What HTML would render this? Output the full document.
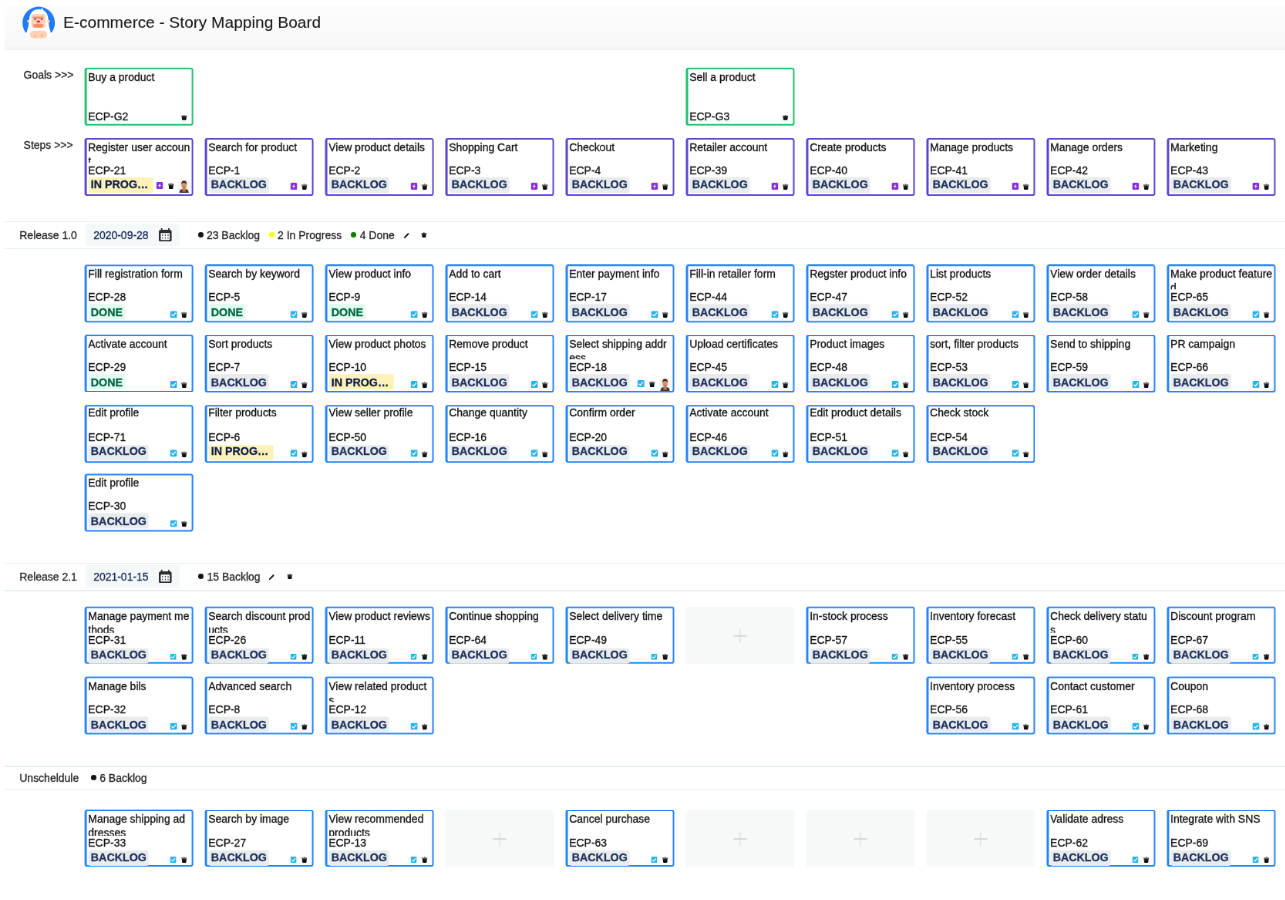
<!DOCTYPE html>
<html><head><meta charset="utf-8"><title>E-commerce - Story Mapping Board</title>
<style>
*{margin:0;padding:0;box-sizing:border-box}
html,body{width:1285px;height:900px;overflow:hidden;background:#fff}
body{will-change:transform;font-family:"Liberation Sans",sans-serif;color:#111}
#root div{-webkit-text-stroke:0.3px currentColor}
#root{position:absolute;left:0;top:0;width:1666.667px;height:1167.315px;transform:scale(0.771);transform-origin:0 0}
.a{position:absolute}
.f{display:block;width:100%;height:100%}
.t{position:absolute;font-size:13.982px;line-height:0;white-space:nowrap;color:#262626}
.card{position:absolute;width:140.726px;background:#fff;border-radius:3.372px}
.card .t{color:#111}
.bd{position:absolute;left:0;top:0;right:0;bottom:0;border:2.075px solid;border-left-width:3.178px;border-radius:3.372px}
.sum{position:absolute;width:132.555px;overflow:hidden;font-size:13.982px;line-height:18.029px;word-break:break-all;color:#111}
.loz{position:absolute;font-weight:bold;font-size:14.267px;border-radius:2.983px;white-space:nowrap;overflow:hidden}
.lb{background:#e8ecec;color:#1f305e}
.ld{background:#e3fcef;color:#006644}
.li{background:#fff2b8;color:#0f1f44}
.ph{position:absolute;width:140.726px;background:#f7f9f9;border-radius:3.891px}
.pl{background:#d2d9d6}
.hl{background:#e4eef1}
.datebox{background:#f5f8f8;border-radius:2.853px}
.dot{border-radius:50%}
.hdr{background:linear-gradient(#fdfdfd,#fafafa 55%,#f8f8f8 90%,#f2f2f2)}
</style></head>
<body><svg width="0" height="0" style="position:absolute"><defs><linearGradient id="tg" x1="0" y1="0" x2="0" y2="1"><stop offset="0" stop-color="#333"/><stop offset="0.5" stop-color="#111"/><stop offset="1" stop-color="#000"/></linearGradient></defs></svg><div id="root">
<div class="a hdr" style="left:6.485px;top:8.042px;width:1660.182px;height:56.550px;"></div>
<div class="a " style="left:25.940px;top:6.485px;width:49.287px;height:49.287px;"><svg class="f" viewBox="0 0 38 38">
<circle cx="18.6" cy="18.3" r="16.6" fill="#fff"/>
<clipPath id="cc"><circle cx="18.6" cy="18.2" r="16.2"/></clipPath>
<g clip-path="url(#cc)">
<path d="M0 0 H38 V28 L30.6 28 Q28.6 22 28.2 14 Q27.2 4.8 18.6 4.6 Q10.2 4.8 9.2 14 Q8.6 22 6.6 28 L0 28 Z" fill="#1d7cf6"/>
</g>
<path d="M20.3 5 L22.4 3.4 L23.4 6.2 Z" fill="#fff"/>
<circle cx="8.3" cy="16.5" r="1.3" fill="#ffd2b5"/><circle cx="28.6" cy="16.5" r="1.3" fill="#ffd2b5"/>
<rect x="11.2" y="9.2" width="14.3" height="13.9" rx="3" fill="#ffd2b5"/>
<rect x="12.9" y="12" width="10.6" height="1.9" fill="#ff8c61"/>
<circle cx="15" cy="14.6" r="0.9" fill="#5b3fa8"/><circle cx="21.6" cy="14.6" r="0.9" fill="#5b3fa8"/>
<ellipse cx="18.3" cy="16.9" rx="1.8" ry="1" fill="#f0252e"/>
<path d="M13.3 19 H23.2 V21 Q23.2 23 21 23 H15.5 Q13.3 23 13.3 21 Z" fill="#ff8c61"/>
<rect x="14" y="18.6" width="0.9" height="1" fill="#fff"/><rect x="21.9" y="18.6" width="0.9" height="1" fill="#fff"/>
<rect x="9.9" y="26" width="17.1" height="7.8" rx="3.8" fill="#ffd2b5"/>
<rect x="14.1" y="30.2" width="1.4" height="1.6" fill="#ff8c61"/><rect x="21" y="30.2" width="1.4" height="1.6" fill="#ff8c61"/>
</svg></div>
<div class="t" style="left:82.101px;top:28.929px;font-size:20.947px;color:#1a1a1a;-webkit-text-stroke:0.12px #1a1a1a">E-commerce - Story Mapping Board</div>
<div class="t" style="left:30.610px;top:96.582px;">Goals &gt;&gt;&gt;</div>
<div class="t" style="left:30.610px;top:187.892px;">Steps &gt;&gt;&gt;</div>
<div class="card" style="left:109px;top:87px;transform:translate(0.598px,0.808px);height:75.097px"><div class="bd" style="border-color:#22c070"></div><div class="sum" style="left:4.669px;top:3.262px;height:28.904px">Buy a product</div><div class="t" style="left:4.669px;top:62.860px;">ECP-G2</div><div class="a " style="left:124.514px;top:60.960px;width:8.431px;height:7.393px;"><svg class="f" viewBox="0 0 68 62" preserveAspectRatio="none"><circle cx="34" cy="6" r="5" fill="#1a1a1a"/><rect x="2" y="10.5" width="64" height="7.5" rx="3" fill="#2e2e2e"/><path d="M8 18 H60 L55 56 Q54 62 48 62 H20 Q14 62 13 56 Z" fill="url(#tg)"/></svg></div></div>
<div class="card" style="left:889px;top:87px;transform:translate(0.494px,0.808px);height:75.097px"><div class="bd" style="border-color:#22c070"></div><div class="sum" style="left:4.669px;top:3.262px;height:28.904px">Sell a product</div><div class="t" style="left:4.669px;top:62.860px;">ECP-G3</div><div class="a " style="left:124.514px;top:60.960px;width:8.431px;height:7.393px;"><svg class="f" viewBox="0 0 68 62" preserveAspectRatio="none"><circle cx="34" cy="6" r="5" fill="#1a1a1a"/><rect x="2" y="10.5" width="64" height="7.5" rx="3" fill="#2e2e2e"/><path d="M8 18 H60 L55 56 Q54 62 48 62 H20 Q14 62 13 56 Z" fill="url(#tg)"/></svg></div></div>
<div class="card" style="left:109px;top:179px;transform:translate(0.598px,0.118px);height:74.578px"><div class="bd" style="border-color:#5a45d3"></div><div class="sum" style="left:4.669px;top:2.743px;height:29.293px">Register user account</div><div class="t" style="left:4.669px;top:41.588px;">ECP-21</div><div class="loz li" style="left:4.994px;top:51.492px;width:84.047px;height:19.974px;line-height:18.518px;padding-left:3.243px">IN PROG…</div><div class="a " style="left:93.320px;top:57.458px;width:8.820px;height:8.820px;"><svg class="f" viewBox="0 0 70 70"><rect width="70" height="70" rx="12" fill="#8a2be2"/><path d="M42 10 L19 39 L33 39 L27 60 L51 30 L37 30 Z" fill="#fff"/></svg></div><div class="a " style="left:108.495px;top:58.366px;width:8.431px;height:7.912px;"><svg class="f" viewBox="0 0 68 62" preserveAspectRatio="none"><circle cx="34" cy="6" r="5" fill="#1a1a1a"/><rect x="2" y="10.5" width="64" height="7.5" rx="3" fill="#2e2e2e"/><path d="M8 18 H60 L55 56 Q54 62 48 62 H20 Q14 62 13 56 Z" fill="url(#tg)"/></svg></div><div class="a " style="left:120.104px;top:52.659px;width:18.158px;height:18.158px;"><svg class="f" viewBox="0 0 14 14"><circle cx="7" cy="7" r="6.8" fill="#f6f4f2"/>
<path d="M2.2 14 Q2.6 10.6 4.6 10.2 L9.4 10.2 Q11.4 10.6 11.8 14 Z" fill="#3b3a36"/>
<path d="M5.6 9.2 L8.4 9.2 L8.8 12.6 L5.2 12.6 Z" fill="#c87545"/>
<ellipse cx="7" cy="6.4" rx="2.6" ry="3.3" fill="#d8936a"/>
<path d="M4.3 5.6 Q4.0 2.0 7 1.7 Q10.0 2.0 9.7 5.6 Q9.0 3.6 7 3.7 Q5.0 3.6 4.3 5.6 Z" fill="#3a2418"/>
<ellipse cx="7" cy="8.3" rx="1.0" ry="0.4" fill="#b5473a"/>
</svg></div></div>
<div class="card" style="left:265px;top:179px;transform:translate(0.577px,0.118px);height:74.578px"><div class="bd" style="border-color:#5a45d3"></div><div class="sum" style="left:4.669px;top:2.743px;height:29.293px">Search for product</div><div class="t" style="left:4.669px;top:41.588px;">ECP-1</div><div class="loz lb" style="left:4.994px;top:51.492px;width:78.340px;height:19.974px;line-height:18.518px;padding-left:3.243px">BACKLOG</div><div class="a " style="left:110.765px;top:58.495px;width:8.820px;height:8.820px;"><svg class="f" viewBox="0 0 70 70"><rect width="70" height="70" rx="12" fill="#8a2be2"/><path d="M42 10 L19 39 L33 39 L27 60 L51 30 L37 30 Z" fill="#fff"/></svg></div><div class="a " style="left:124.514px;top:59.403px;width:8.431px;height:7.912px;"><svg class="f" viewBox="0 0 68 62" preserveAspectRatio="none"><circle cx="34" cy="6" r="5" fill="#1a1a1a"/><rect x="2" y="10.5" width="64" height="7.5" rx="3" fill="#2e2e2e"/><path d="M8 18 H60 L55 56 Q54 62 48 62 H20 Q14 62 13 56 Z" fill="url(#tg)"/></svg></div></div>
<div class="card" style="left:421px;top:179px;transform:translate(0.556px,0.118px);height:74.578px"><div class="bd" style="border-color:#5a45d3"></div><div class="sum" style="left:4.669px;top:2.743px;height:29.293px">View product details</div><div class="t" style="left:4.669px;top:41.588px;">ECP-2</div><div class="loz lb" style="left:4.994px;top:51.492px;width:78.340px;height:19.974px;line-height:18.518px;padding-left:3.243px">BACKLOG</div><div class="a " style="left:110.765px;top:58.495px;width:8.820px;height:8.820px;"><svg class="f" viewBox="0 0 70 70"><rect width="70" height="70" rx="12" fill="#8a2be2"/><path d="M42 10 L19 39 L33 39 L27 60 L51 30 L37 30 Z" fill="#fff"/></svg></div><div class="a " style="left:124.514px;top:59.403px;width:8.431px;height:7.912px;"><svg class="f" viewBox="0 0 68 62" preserveAspectRatio="none"><circle cx="34" cy="6" r="5" fill="#1a1a1a"/><rect x="2" y="10.5" width="64" height="7.5" rx="3" fill="#2e2e2e"/><path d="M8 18 H60 L55 56 Q54 62 48 62 H20 Q14 62 13 56 Z" fill="url(#tg)"/></svg></div></div>
<div class="card" style="left:577px;top:179px;transform:translate(0.536px,0.118px);height:74.578px"><div class="bd" style="border-color:#5a45d3"></div><div class="sum" style="left:4.669px;top:2.743px;height:29.293px">Shopping Cart</div><div class="t" style="left:4.669px;top:41.588px;">ECP-3</div><div class="loz lb" style="left:4.994px;top:51.492px;width:78.340px;height:19.974px;line-height:18.518px;padding-left:3.243px">BACKLOG</div><div class="a " style="left:110.765px;top:58.495px;width:8.820px;height:8.820px;"><svg class="f" viewBox="0 0 70 70"><rect width="70" height="70" rx="12" fill="#8a2be2"/><path d="M42 10 L19 39 L33 39 L27 60 L51 30 L37 30 Z" fill="#fff"/></svg></div><div class="a " style="left:124.514px;top:59.403px;width:8.431px;height:7.912px;"><svg class="f" viewBox="0 0 68 62" preserveAspectRatio="none"><circle cx="34" cy="6" r="5" fill="#1a1a1a"/><rect x="2" y="10.5" width="64" height="7.5" rx="3" fill="#2e2e2e"/><path d="M8 18 H60 L55 56 Q54 62 48 62 H20 Q14 62 13 56 Z" fill="url(#tg)"/></svg></div></div>
<div class="card" style="left:733px;top:179px;transform:translate(0.515px,0.118px);height:74.578px"><div class="bd" style="border-color:#5a45d3"></div><div class="sum" style="left:4.669px;top:2.743px;height:29.293px">Checkout</div><div class="t" style="left:4.669px;top:41.588px;">ECP-4</div><div class="loz lb" style="left:4.994px;top:51.492px;width:78.340px;height:19.974px;line-height:18.518px;padding-left:3.243px">BACKLOG</div><div class="a " style="left:110.765px;top:58.495px;width:8.820px;height:8.820px;"><svg class="f" viewBox="0 0 70 70"><rect width="70" height="70" rx="12" fill="#8a2be2"/><path d="M42 10 L19 39 L33 39 L27 60 L51 30 L37 30 Z" fill="#fff"/></svg></div><div class="a " style="left:124.514px;top:59.403px;width:8.431px;height:7.912px;"><svg class="f" viewBox="0 0 68 62" preserveAspectRatio="none"><circle cx="34" cy="6" r="5" fill="#1a1a1a"/><rect x="2" y="10.5" width="64" height="7.5" rx="3" fill="#2e2e2e"/><path d="M8 18 H60 L55 56 Q54 62 48 62 H20 Q14 62 13 56 Z" fill="url(#tg)"/></svg></div></div>
<div class="card" style="left:889px;top:179px;transform:translate(0.494px,0.118px);height:74.578px"><div class="bd" style="border-color:#5a45d3"></div><div class="sum" style="left:4.669px;top:2.743px;height:29.293px">Retailer account</div><div class="t" style="left:4.669px;top:41.588px;">ECP-39</div><div class="loz lb" style="left:4.994px;top:51.492px;width:78.340px;height:19.974px;line-height:18.518px;padding-left:3.243px">BACKLOG</div><div class="a " style="left:110.765px;top:58.495px;width:8.820px;height:8.820px;"><svg class="f" viewBox="0 0 70 70"><rect width="70" height="70" rx="12" fill="#8a2be2"/><path d="M42 10 L19 39 L33 39 L27 60 L51 30 L37 30 Z" fill="#fff"/></svg></div><div class="a " style="left:124.514px;top:59.403px;width:8.431px;height:7.912px;"><svg class="f" viewBox="0 0 68 62" preserveAspectRatio="none"><circle cx="34" cy="6" r="5" fill="#1a1a1a"/><rect x="2" y="10.5" width="64" height="7.5" rx="3" fill="#2e2e2e"/><path d="M8 18 H60 L55 56 Q54 62 48 62 H20 Q14 62 13 56 Z" fill="url(#tg)"/></svg></div></div>
<div class="card" style="left:1045px;top:179px;transform:translate(0.473px,0.118px);height:74.578px"><div class="bd" style="border-color:#5a45d3"></div><div class="sum" style="left:4.669px;top:2.743px;height:29.293px">Create products</div><div class="t" style="left:4.669px;top:41.588px;">ECP-40</div><div class="loz lb" style="left:4.994px;top:51.492px;width:78.340px;height:19.974px;line-height:18.518px;padding-left:3.243px">BACKLOG</div><div class="a " style="left:110.765px;top:58.495px;width:8.820px;height:8.820px;"><svg class="f" viewBox="0 0 70 70"><rect width="70" height="70" rx="12" fill="#8a2be2"/><path d="M42 10 L19 39 L33 39 L27 60 L51 30 L37 30 Z" fill="#fff"/></svg></div><div class="a " style="left:124.514px;top:59.403px;width:8.431px;height:7.912px;"><svg class="f" viewBox="0 0 68 62" preserveAspectRatio="none"><circle cx="34" cy="6" r="5" fill="#1a1a1a"/><rect x="2" y="10.5" width="64" height="7.5" rx="3" fill="#2e2e2e"/><path d="M8 18 H60 L55 56 Q54 62 48 62 H20 Q14 62 13 56 Z" fill="url(#tg)"/></svg></div></div>
<div class="card" style="left:1201px;top:179px;transform:translate(0.453px,0.118px);height:74.578px"><div class="bd" style="border-color:#5a45d3"></div><div class="sum" style="left:4.669px;top:2.743px;height:29.293px">Manage products</div><div class="t" style="left:4.669px;top:41.588px;">ECP-41</div><div class="loz lb" style="left:4.994px;top:51.492px;width:78.340px;height:19.974px;line-height:18.518px;padding-left:3.243px">BACKLOG</div><div class="a " style="left:110.765px;top:58.495px;width:8.820px;height:8.820px;"><svg class="f" viewBox="0 0 70 70"><rect width="70" height="70" rx="12" fill="#8a2be2"/><path d="M42 10 L19 39 L33 39 L27 60 L51 30 L37 30 Z" fill="#fff"/></svg></div><div class="a " style="left:124.514px;top:59.403px;width:8.431px;height:7.912px;"><svg class="f" viewBox="0 0 68 62" preserveAspectRatio="none"><circle cx="34" cy="6" r="5" fill="#1a1a1a"/><rect x="2" y="10.5" width="64" height="7.5" rx="3" fill="#2e2e2e"/><path d="M8 18 H60 L55 56 Q54 62 48 62 H20 Q14 62 13 56 Z" fill="url(#tg)"/></svg></div></div>
<div class="card" style="left:1357px;top:179px;transform:translate(0.432px,0.118px);height:74.578px"><div class="bd" style="border-color:#5a45d3"></div><div class="sum" style="left:4.669px;top:2.743px;height:29.293px">Manage orders</div><div class="t" style="left:4.669px;top:41.588px;">ECP-42</div><div class="loz lb" style="left:4.994px;top:51.492px;width:78.340px;height:19.974px;line-height:18.518px;padding-left:3.243px">BACKLOG</div><div class="a " style="left:110.765px;top:58.495px;width:8.820px;height:8.820px;"><svg class="f" viewBox="0 0 70 70"><rect width="70" height="70" rx="12" fill="#8a2be2"/><path d="M42 10 L19 39 L33 39 L27 60 L51 30 L37 30 Z" fill="#fff"/></svg></div><div class="a " style="left:124.514px;top:59.403px;width:8.431px;height:7.912px;"><svg class="f" viewBox="0 0 68 62" preserveAspectRatio="none"><circle cx="34" cy="6" r="5" fill="#1a1a1a"/><rect x="2" y="10.5" width="64" height="7.5" rx="3" fill="#2e2e2e"/><path d="M8 18 H60 L55 56 Q54 62 48 62 H20 Q14 62 13 56 Z" fill="url(#tg)"/></svg></div></div>
<div class="card" style="left:1513px;top:179px;transform:translate(0.411px,0.118px);height:74.578px"><div class="bd" style="border-color:#5a45d3"></div><div class="sum" style="left:4.669px;top:2.743px;height:29.293px">Marketing</div><div class="t" style="left:4.669px;top:41.588px;">ECP-43</div><div class="loz lb" style="left:4.994px;top:51.492px;width:78.340px;height:19.974px;line-height:18.518px;padding-left:3.243px">BACKLOG</div><div class="a " style="left:110.765px;top:58.495px;width:8.820px;height:8.820px;"><svg class="f" viewBox="0 0 70 70"><rect width="70" height="70" rx="12" fill="#8a2be2"/><path d="M42 10 L19 39 L33 39 L27 60 L51 30 L37 30 Z" fill="#fff"/></svg></div><div class="a " style="left:124.514px;top:59.403px;width:8.431px;height:7.912px;"><svg class="f" viewBox="0 0 68 62" preserveAspectRatio="none"><circle cx="34" cy="6" r="5" fill="#1a1a1a"/><rect x="2" y="10.5" width="64" height="7.5" rx="3" fill="#2e2e2e"/><path d="M8 18 H60 L55 56 Q54 62 48 62 H20 Q14 62 13 56 Z" fill="url(#tg)"/></svg></div></div>
<div class="a hl" style="left:6.485px;top:286.641px;width:1660.182px;height:1.297px;"></div><div class="a hl" style="left:6.485px;top:321.660px;width:1660.182px;height:1.297px;"></div><div class="t" style="left:25.292px;top:305.272px;">Release 1.0</div><div class="a datebox" style="left:111.414px;top:289.754px;width:121.920px;height:29.183px;"></div><div class="t" style="left:121.141px;top:305.272px;color:#14295a">2020-09-28</div><div class="a " style="left:206.355px;top:295.850px;width:16.861px;height:17.510px;"><svg class="f" viewBox="0 0 130 135"><g fill="#2b2d31"><rect x="22" y="0" width="13" height="22" rx="3"/><rect x="93" y="0" width="13" height="22" rx="3"/>
<rect x="0" y="16" width="128" height="119" rx="20"/></g><rect x="19" y="49" width="90" height="68" rx="3" fill="#fff"/>
<g fill="#2b2d31"><rect x="32" y="62" width="9" height="15" rx="2"/><rect x="60" y="62" width="9" height="15" rx="2"/><rect x="88" y="62" width="9" height="15" rx="2"/>
<rect x="32" y="90" width="9" height="15" rx="2"/><rect x="60" y="90" width="9" height="15" rx="2"/><rect x="88" y="90" width="9" height="15" rx="2"/></g></svg></div><div class="a dot" style="left:256.680px;top:301.297px;width:6.874px;height:6.485px;background:#141414"></div><div class="t" style="left:267.964px;top:305.272px;">23 Backlog</div><div class="a dot" style="left:348.768px;top:301.297px;width:6.874px;height:6.485px;background:#ffff00"></div><div class="t" style="left:360.052px;top:305.272px;">2 In Progress</div><div class="a dot" style="left:455.253px;top:301.297px;width:6.874px;height:6.485px;background:#008000"></div><div class="t" style="left:466.667px;top:305.272px;">4 Done</div><div class="a " style="left:523.476px;top:301.686px;width:7.782px;height:7.782px;"><svg class="f" viewBox="0 0 60 60"><path d="M17 43 L50 10" stroke="#111" stroke-width="15" stroke-linecap="round"/><path d="M12 40 L20 48 L4 57 Z" fill="#111"/></svg></div><div class="a " style="left:545.785px;top:301.167px;width:7.782px;height:7.263px;"><svg class="f" viewBox="0 0 68 62" preserveAspectRatio="none"><circle cx="34" cy="6" r="5" fill="#1a1a1a"/><rect x="2" y="10.5" width="64" height="7.5" rx="3" fill="#2e2e2e"/><path d="M8 18 H60 L55 56 Q54 62 48 62 H20 Q14 62 13 56 Z" fill="url(#tg)"/></svg></div>
<div class="card" style="left:109px;top:343px;transform:translate(0.598px,0.191px);height:74.708px"><div class="bd" style="border-color:#2684ff"></div><div class="sum" style="left:4.669px;top:3.391px;height:28.904px">Fill registration form</div><div class="t" style="left:4.669px;top:42.237px;">ECP-28</div><div class="loz ld" style="left:4.994px;top:51.232px;width:48.379px;height:19.974px;line-height:23.187px;padding-left:3.243px">DONE</div><div class="a " style="left:110.765px;top:60.182px;width:9.209px;height:9.209px;"><svg class="f" viewBox="0 0 70 70"><rect width="70" height="70" rx="12" fill="#27b4ec"/><path d="M17 38 L30 50 L54 21" stroke="#fff" stroke-width="10" fill="none" stroke-linecap="round"/></svg></div><div class="a " style="left:124.514px;top:61.479px;width:8.431px;height:7.912px;"><svg class="f" viewBox="0 0 68 62" preserveAspectRatio="none"><circle cx="34" cy="6" r="5" fill="#1a1a1a"/><rect x="2" y="10.5" width="64" height="7.5" rx="3" fill="#2e2e2e"/><path d="M8 18 H60 L55 56 Q54 62 48 62 H20 Q14 62 13 56 Z" fill="url(#tg)"/></svg></div></div>
<div class="card" style="left:265px;top:343px;transform:translate(0.577px,0.191px);height:74.708px"><div class="bd" style="border-color:#2684ff"></div><div class="sum" style="left:4.669px;top:3.391px;height:28.904px">Search by keyword</div><div class="t" style="left:4.669px;top:42.237px;">ECP-5</div><div class="loz ld" style="left:4.994px;top:51.232px;width:48.379px;height:19.974px;line-height:23.187px;padding-left:3.243px">DONE</div><div class="a " style="left:110.765px;top:60.182px;width:9.209px;height:9.209px;"><svg class="f" viewBox="0 0 70 70"><rect width="70" height="70" rx="12" fill="#27b4ec"/><path d="M17 38 L30 50 L54 21" stroke="#fff" stroke-width="10" fill="none" stroke-linecap="round"/></svg></div><div class="a " style="left:124.514px;top:61.479px;width:8.431px;height:7.912px;"><svg class="f" viewBox="0 0 68 62" preserveAspectRatio="none"><circle cx="34" cy="6" r="5" fill="#1a1a1a"/><rect x="2" y="10.5" width="64" height="7.5" rx="3" fill="#2e2e2e"/><path d="M8 18 H60 L55 56 Q54 62 48 62 H20 Q14 62 13 56 Z" fill="url(#tg)"/></svg></div></div>
<div class="card" style="left:421px;top:343px;transform:translate(0.556px,0.191px);height:74.708px"><div class="bd" style="border-color:#2684ff"></div><div class="sum" style="left:4.669px;top:3.391px;height:28.904px">View product info</div><div class="t" style="left:4.669px;top:42.237px;">ECP-9</div><div class="loz ld" style="left:4.994px;top:51.232px;width:48.379px;height:19.974px;line-height:23.187px;padding-left:3.243px">DONE</div><div class="a " style="left:110.765px;top:60.182px;width:9.209px;height:9.209px;"><svg class="f" viewBox="0 0 70 70"><rect width="70" height="70" rx="12" fill="#27b4ec"/><path d="M17 38 L30 50 L54 21" stroke="#fff" stroke-width="10" fill="none" stroke-linecap="round"/></svg></div><div class="a " style="left:124.514px;top:61.479px;width:8.431px;height:7.912px;"><svg class="f" viewBox="0 0 68 62" preserveAspectRatio="none"><circle cx="34" cy="6" r="5" fill="#1a1a1a"/><rect x="2" y="10.5" width="64" height="7.5" rx="3" fill="#2e2e2e"/><path d="M8 18 H60 L55 56 Q54 62 48 62 H20 Q14 62 13 56 Z" fill="url(#tg)"/></svg></div></div>
<div class="card" style="left:577px;top:343px;transform:translate(0.536px,0.191px);height:74.708px"><div class="bd" style="border-color:#2684ff"></div><div class="sum" style="left:4.669px;top:3.391px;height:28.904px">Add to cart</div><div class="t" style="left:4.669px;top:42.237px;">ECP-14</div><div class="loz lb" style="left:4.994px;top:51.232px;width:78.340px;height:19.974px;line-height:23.187px;padding-left:3.243px">BACKLOG</div><div class="a " style="left:110.765px;top:60.182px;width:9.209px;height:9.209px;"><svg class="f" viewBox="0 0 70 70"><rect width="70" height="70" rx="12" fill="#27b4ec"/><path d="M17 38 L30 50 L54 21" stroke="#fff" stroke-width="10" fill="none" stroke-linecap="round"/></svg></div><div class="a " style="left:124.514px;top:61.479px;width:8.431px;height:7.912px;"><svg class="f" viewBox="0 0 68 62" preserveAspectRatio="none"><circle cx="34" cy="6" r="5" fill="#1a1a1a"/><rect x="2" y="10.5" width="64" height="7.5" rx="3" fill="#2e2e2e"/><path d="M8 18 H60 L55 56 Q54 62 48 62 H20 Q14 62 13 56 Z" fill="url(#tg)"/></svg></div></div>
<div class="card" style="left:733px;top:343px;transform:translate(0.515px,0.191px);height:74.708px"><div class="bd" style="border-color:#2684ff"></div><div class="sum" style="left:4.669px;top:3.391px;height:28.904px">Enter payment info</div><div class="t" style="left:4.669px;top:42.237px;">ECP-17</div><div class="loz lb" style="left:4.994px;top:51.232px;width:78.340px;height:19.974px;line-height:23.187px;padding-left:3.243px">BACKLOG</div><div class="a " style="left:110.765px;top:60.182px;width:9.209px;height:9.209px;"><svg class="f" viewBox="0 0 70 70"><rect width="70" height="70" rx="12" fill="#27b4ec"/><path d="M17 38 L30 50 L54 21" stroke="#fff" stroke-width="10" fill="none" stroke-linecap="round"/></svg></div><div class="a " style="left:124.514px;top:61.479px;width:8.431px;height:7.912px;"><svg class="f" viewBox="0 0 68 62" preserveAspectRatio="none"><circle cx="34" cy="6" r="5" fill="#1a1a1a"/><rect x="2" y="10.5" width="64" height="7.5" rx="3" fill="#2e2e2e"/><path d="M8 18 H60 L55 56 Q54 62 48 62 H20 Q14 62 13 56 Z" fill="url(#tg)"/></svg></div></div>
<div class="card" style="left:889px;top:343px;transform:translate(0.494px,0.191px);height:74.708px"><div class="bd" style="border-color:#2684ff"></div><div class="sum" style="left:4.669px;top:3.391px;height:28.904px">Fill-in retailer form</div><div class="t" style="left:4.669px;top:42.237px;">ECP-44</div><div class="loz lb" style="left:4.994px;top:51.232px;width:78.340px;height:19.974px;line-height:23.187px;padding-left:3.243px">BACKLOG</div><div class="a " style="left:110.765px;top:60.182px;width:9.209px;height:9.209px;"><svg class="f" viewBox="0 0 70 70"><rect width="70" height="70" rx="12" fill="#27b4ec"/><path d="M17 38 L30 50 L54 21" stroke="#fff" stroke-width="10" fill="none" stroke-linecap="round"/></svg></div><div class="a " style="left:124.514px;top:61.479px;width:8.431px;height:7.912px;"><svg class="f" viewBox="0 0 68 62" preserveAspectRatio="none"><circle cx="34" cy="6" r="5" fill="#1a1a1a"/><rect x="2" y="10.5" width="64" height="7.5" rx="3" fill="#2e2e2e"/><path d="M8 18 H60 L55 56 Q54 62 48 62 H20 Q14 62 13 56 Z" fill="url(#tg)"/></svg></div></div>
<div class="card" style="left:1045px;top:343px;transform:translate(0.473px,0.191px);height:74.708px"><div class="bd" style="border-color:#2684ff"></div><div class="sum" style="left:4.669px;top:3.391px;height:28.904px">Regster product info</div><div class="t" style="left:4.669px;top:42.237px;">ECP-47</div><div class="loz lb" style="left:4.994px;top:51.232px;width:78.340px;height:19.974px;line-height:23.187px;padding-left:3.243px">BACKLOG</div><div class="a " style="left:110.765px;top:60.182px;width:9.209px;height:9.209px;"><svg class="f" viewBox="0 0 70 70"><rect width="70" height="70" rx="12" fill="#27b4ec"/><path d="M17 38 L30 50 L54 21" stroke="#fff" stroke-width="10" fill="none" stroke-linecap="round"/></svg></div><div class="a " style="left:124.514px;top:61.479px;width:8.431px;height:7.912px;"><svg class="f" viewBox="0 0 68 62" preserveAspectRatio="none"><circle cx="34" cy="6" r="5" fill="#1a1a1a"/><rect x="2" y="10.5" width="64" height="7.5" rx="3" fill="#2e2e2e"/><path d="M8 18 H60 L55 56 Q54 62 48 62 H20 Q14 62 13 56 Z" fill="url(#tg)"/></svg></div></div>
<div class="card" style="left:1201px;top:343px;transform:translate(0.453px,0.191px);height:74.708px"><div class="bd" style="border-color:#2684ff"></div><div class="sum" style="left:4.669px;top:3.391px;height:28.904px">List products</div><div class="t" style="left:4.669px;top:42.237px;">ECP-52</div><div class="loz lb" style="left:4.994px;top:51.232px;width:78.340px;height:19.974px;line-height:23.187px;padding-left:3.243px">BACKLOG</div><div class="a " style="left:110.765px;top:60.182px;width:9.209px;height:9.209px;"><svg class="f" viewBox="0 0 70 70"><rect width="70" height="70" rx="12" fill="#27b4ec"/><path d="M17 38 L30 50 L54 21" stroke="#fff" stroke-width="10" fill="none" stroke-linecap="round"/></svg></div><div class="a " style="left:124.514px;top:61.479px;width:8.431px;height:7.912px;"><svg class="f" viewBox="0 0 68 62" preserveAspectRatio="none"><circle cx="34" cy="6" r="5" fill="#1a1a1a"/><rect x="2" y="10.5" width="64" height="7.5" rx="3" fill="#2e2e2e"/><path d="M8 18 H60 L55 56 Q54 62 48 62 H20 Q14 62 13 56 Z" fill="url(#tg)"/></svg></div></div>
<div class="card" style="left:1357px;top:343px;transform:translate(0.432px,0.191px);height:74.708px"><div class="bd" style="border-color:#2684ff"></div><div class="sum" style="left:4.669px;top:3.391px;height:28.904px">View order details</div><div class="t" style="left:4.669px;top:42.237px;">ECP-58</div><div class="loz lb" style="left:4.994px;top:51.232px;width:78.340px;height:19.974px;line-height:23.187px;padding-left:3.243px">BACKLOG</div><div class="a " style="left:110.765px;top:60.182px;width:9.209px;height:9.209px;"><svg class="f" viewBox="0 0 70 70"><rect width="70" height="70" rx="12" fill="#27b4ec"/><path d="M17 38 L30 50 L54 21" stroke="#fff" stroke-width="10" fill="none" stroke-linecap="round"/></svg></div><div class="a " style="left:124.514px;top:61.479px;width:8.431px;height:7.912px;"><svg class="f" viewBox="0 0 68 62" preserveAspectRatio="none"><circle cx="34" cy="6" r="5" fill="#1a1a1a"/><rect x="2" y="10.5" width="64" height="7.5" rx="3" fill="#2e2e2e"/><path d="M8 18 H60 L55 56 Q54 62 48 62 H20 Q14 62 13 56 Z" fill="url(#tg)"/></svg></div></div>
<div class="card" style="left:1513px;top:343px;transform:translate(0.411px,0.191px);height:74.708px"><div class="bd" style="border-color:#2684ff"></div><div class="sum" style="left:4.669px;top:3.391px;height:28.904px">Make product featured</div><div class="t" style="left:4.669px;top:42.237px;">ECP-65</div><div class="loz lb" style="left:4.994px;top:51.232px;width:78.340px;height:19.974px;line-height:23.187px;padding-left:3.243px">BACKLOG</div><div class="a " style="left:110.765px;top:60.182px;width:9.209px;height:9.209px;"><svg class="f" viewBox="0 0 70 70"><rect width="70" height="70" rx="12" fill="#27b4ec"/><path d="M17 38 L30 50 L54 21" stroke="#fff" stroke-width="10" fill="none" stroke-linecap="round"/></svg></div><div class="a " style="left:124.514px;top:61.479px;width:8.431px;height:7.912px;"><svg class="f" viewBox="0 0 68 62" preserveAspectRatio="none"><circle cx="34" cy="6" r="5" fill="#1a1a1a"/><rect x="2" y="10.5" width="64" height="7.5" rx="3" fill="#2e2e2e"/><path d="M8 18 H60 L55 56 Q54 62 48 62 H20 Q14 62 13 56 Z" fill="url(#tg)"/></svg></div></div>
<div class="card" style="left:109px;top:434px;transform:translate(0.598px,0.112px);height:74.838px"><div class="bd" style="border-color:#2684ff"></div><div class="sum" style="left:4.669px;top:3.262px;height:29.164px">Activate account</div><div class="t" style="left:4.669px;top:42.107px;">ECP-29</div><div class="loz ld" style="left:4.994px;top:51.492px;width:48.379px;height:19.974px;line-height:22.409px;padding-left:3.243px">DONE</div><div class="a " style="left:110.765px;top:60.182px;width:9.209px;height:9.209px;"><svg class="f" viewBox="0 0 70 70"><rect width="70" height="70" rx="12" fill="#27b4ec"/><path d="M17 38 L30 50 L54 21" stroke="#fff" stroke-width="10" fill="none" stroke-linecap="round"/></svg></div><div class="a " style="left:124.514px;top:61.479px;width:8.431px;height:7.912px;"><svg class="f" viewBox="0 0 68 62" preserveAspectRatio="none"><circle cx="34" cy="6" r="5" fill="#1a1a1a"/><rect x="2" y="10.5" width="64" height="7.5" rx="3" fill="#2e2e2e"/><path d="M8 18 H60 L55 56 Q54 62 48 62 H20 Q14 62 13 56 Z" fill="url(#tg)"/></svg></div></div>
<div class="card" style="left:265px;top:434px;transform:translate(0.577px,0.112px);height:74.838px"><div class="bd" style="border-color:#2684ff"></div><div class="sum" style="left:4.669px;top:3.262px;height:29.164px">Sort products</div><div class="t" style="left:4.669px;top:42.107px;">ECP-7</div><div class="loz lb" style="left:4.994px;top:51.492px;width:78.340px;height:19.974px;line-height:22.409px;padding-left:3.243px">BACKLOG</div><div class="a " style="left:110.765px;top:60.182px;width:9.209px;height:9.209px;"><svg class="f" viewBox="0 0 70 70"><rect width="70" height="70" rx="12" fill="#27b4ec"/><path d="M17 38 L30 50 L54 21" stroke="#fff" stroke-width="10" fill="none" stroke-linecap="round"/></svg></div><div class="a " style="left:124.514px;top:61.479px;width:8.431px;height:7.912px;"><svg class="f" viewBox="0 0 68 62" preserveAspectRatio="none"><circle cx="34" cy="6" r="5" fill="#1a1a1a"/><rect x="2" y="10.5" width="64" height="7.5" rx="3" fill="#2e2e2e"/><path d="M8 18 H60 L55 56 Q54 62 48 62 H20 Q14 62 13 56 Z" fill="url(#tg)"/></svg></div></div>
<div class="card" style="left:421px;top:434px;transform:translate(0.556px,0.112px);height:74.838px"><div class="bd" style="border-color:#2684ff"></div><div class="sum" style="left:4.669px;top:3.262px;height:29.164px">View product photos</div><div class="t" style="left:4.669px;top:42.107px;">ECP-10</div><div class="loz li" style="left:4.994px;top:51.492px;width:84.047px;height:19.974px;line-height:22.409px;padding-left:3.243px">IN PROG…</div><div class="a " style="left:110.765px;top:60.182px;width:9.209px;height:9.209px;"><svg class="f" viewBox="0 0 70 70"><rect width="70" height="70" rx="12" fill="#27b4ec"/><path d="M17 38 L30 50 L54 21" stroke="#fff" stroke-width="10" fill="none" stroke-linecap="round"/></svg></div><div class="a " style="left:124.514px;top:61.479px;width:8.431px;height:7.912px;"><svg class="f" viewBox="0 0 68 62" preserveAspectRatio="none"><circle cx="34" cy="6" r="5" fill="#1a1a1a"/><rect x="2" y="10.5" width="64" height="7.5" rx="3" fill="#2e2e2e"/><path d="M8 18 H60 L55 56 Q54 62 48 62 H20 Q14 62 13 56 Z" fill="url(#tg)"/></svg></div></div>
<div class="card" style="left:577px;top:434px;transform:translate(0.536px,0.112px);height:74.838px"><div class="bd" style="border-color:#2684ff"></div><div class="sum" style="left:4.669px;top:3.262px;height:29.164px">Remove product</div><div class="t" style="left:4.669px;top:42.107px;">ECP-15</div><div class="loz lb" style="left:4.994px;top:51.492px;width:78.340px;height:19.974px;line-height:22.409px;padding-left:3.243px">BACKLOG</div><div class="a " style="left:110.765px;top:60.182px;width:9.209px;height:9.209px;"><svg class="f" viewBox="0 0 70 70"><rect width="70" height="70" rx="12" fill="#27b4ec"/><path d="M17 38 L30 50 L54 21" stroke="#fff" stroke-width="10" fill="none" stroke-linecap="round"/></svg></div><div class="a " style="left:124.514px;top:61.479px;width:8.431px;height:7.912px;"><svg class="f" viewBox="0 0 68 62" preserveAspectRatio="none"><circle cx="34" cy="6" r="5" fill="#1a1a1a"/><rect x="2" y="10.5" width="64" height="7.5" rx="3" fill="#2e2e2e"/><path d="M8 18 H60 L55 56 Q54 62 48 62 H20 Q14 62 13 56 Z" fill="url(#tg)"/></svg></div></div>
<div class="card" style="left:733px;top:434px;transform:translate(0.515px,0.112px);height:74.838px"><div class="bd" style="border-color:#2684ff"></div><div class="sum" style="left:4.669px;top:3.262px;height:29.164px">Select shipping address</div><div class="t" style="left:4.669px;top:42.107px;">ECP-18</div><div class="loz lb" style="left:4.994px;top:51.492px;width:78.340px;height:19.974px;line-height:22.409px;padding-left:3.243px">BACKLOG</div><div class="a " style="left:93.320px;top:59.144px;width:9.209px;height:9.209px;"><svg class="f" viewBox="0 0 70 70"><rect width="70" height="70" rx="12" fill="#27b4ec"/><path d="M17 38 L30 50 L54 21" stroke="#fff" stroke-width="10" fill="none" stroke-linecap="round"/></svg></div><div class="a " style="left:108.495px;top:60.441px;width:8.431px;height:7.912px;"><svg class="f" viewBox="0 0 68 62" preserveAspectRatio="none"><circle cx="34" cy="6" r="5" fill="#1a1a1a"/><rect x="2" y="10.5" width="64" height="7.5" rx="3" fill="#2e2e2e"/><path d="M8 18 H60 L55 56 Q54 62 48 62 H20 Q14 62 13 56 Z" fill="url(#tg)"/></svg></div><div class="a " style="left:120.104px;top:54.734px;width:18.158px;height:18.158px;"><svg class="f" viewBox="0 0 14 14"><circle cx="7" cy="7" r="6.8" fill="#f6f4f2"/>
<path d="M2.2 14 Q2.6 10.6 4.6 10.2 L9.4 10.2 Q11.4 10.6 11.8 14 Z" fill="#3b3a36"/>
<path d="M5.6 9.2 L8.4 9.2 L8.8 12.6 L5.2 12.6 Z" fill="#c87545"/>
<ellipse cx="7" cy="6.4" rx="2.6" ry="3.3" fill="#d8936a"/>
<path d="M4.3 5.6 Q4.0 2.0 7 1.7 Q10.0 2.0 9.7 5.6 Q9.0 3.6 7 3.7 Q5.0 3.6 4.3 5.6 Z" fill="#3a2418"/>
<ellipse cx="7" cy="8.3" rx="1.0" ry="0.4" fill="#b5473a"/>
</svg></div></div>
<div class="card" style="left:889px;top:434px;transform:translate(0.494px,0.112px);height:74.838px"><div class="bd" style="border-color:#2684ff"></div><div class="sum" style="left:4.669px;top:3.262px;height:29.164px">Upload certificates</div><div class="t" style="left:4.669px;top:42.107px;">ECP-45</div><div class="loz lb" style="left:4.994px;top:51.492px;width:78.340px;height:19.974px;line-height:22.409px;padding-left:3.243px">BACKLOG</div><div class="a " style="left:110.765px;top:60.182px;width:9.209px;height:9.209px;"><svg class="f" viewBox="0 0 70 70"><rect width="70" height="70" rx="12" fill="#27b4ec"/><path d="M17 38 L30 50 L54 21" stroke="#fff" stroke-width="10" fill="none" stroke-linecap="round"/></svg></div><div class="a " style="left:124.514px;top:61.479px;width:8.431px;height:7.912px;"><svg class="f" viewBox="0 0 68 62" preserveAspectRatio="none"><circle cx="34" cy="6" r="5" fill="#1a1a1a"/><rect x="2" y="10.5" width="64" height="7.5" rx="3" fill="#2e2e2e"/><path d="M8 18 H60 L55 56 Q54 62 48 62 H20 Q14 62 13 56 Z" fill="url(#tg)"/></svg></div></div>
<div class="card" style="left:1045px;top:434px;transform:translate(0.473px,0.112px);height:74.838px"><div class="bd" style="border-color:#2684ff"></div><div class="sum" style="left:4.669px;top:3.262px;height:29.164px">Product images</div><div class="t" style="left:4.669px;top:42.107px;">ECP-48</div><div class="loz lb" style="left:4.994px;top:51.492px;width:78.340px;height:19.974px;line-height:22.409px;padding-left:3.243px">BACKLOG</div><div class="a " style="left:110.765px;top:60.182px;width:9.209px;height:9.209px;"><svg class="f" viewBox="0 0 70 70"><rect width="70" height="70" rx="12" fill="#27b4ec"/><path d="M17 38 L30 50 L54 21" stroke="#fff" stroke-width="10" fill="none" stroke-linecap="round"/></svg></div><div class="a " style="left:124.514px;top:61.479px;width:8.431px;height:7.912px;"><svg class="f" viewBox="0 0 68 62" preserveAspectRatio="none"><circle cx="34" cy="6" r="5" fill="#1a1a1a"/><rect x="2" y="10.5" width="64" height="7.5" rx="3" fill="#2e2e2e"/><path d="M8 18 H60 L55 56 Q54 62 48 62 H20 Q14 62 13 56 Z" fill="url(#tg)"/></svg></div></div>
<div class="card" style="left:1201px;top:434px;transform:translate(0.453px,0.112px);height:74.838px"><div class="bd" style="border-color:#2684ff"></div><div class="sum" style="left:4.669px;top:3.262px;height:29.164px">sort, filter products</div><div class="t" style="left:4.669px;top:42.107px;">ECP-53</div><div class="loz lb" style="left:4.994px;top:51.492px;width:78.340px;height:19.974px;line-height:22.409px;padding-left:3.243px">BACKLOG</div><div class="a " style="left:110.765px;top:60.182px;width:9.209px;height:9.209px;"><svg class="f" viewBox="0 0 70 70"><rect width="70" height="70" rx="12" fill="#27b4ec"/><path d="M17 38 L30 50 L54 21" stroke="#fff" stroke-width="10" fill="none" stroke-linecap="round"/></svg></div><div class="a " style="left:124.514px;top:61.479px;width:8.431px;height:7.912px;"><svg class="f" viewBox="0 0 68 62" preserveAspectRatio="none"><circle cx="34" cy="6" r="5" fill="#1a1a1a"/><rect x="2" y="10.5" width="64" height="7.5" rx="3" fill="#2e2e2e"/><path d="M8 18 H60 L55 56 Q54 62 48 62 H20 Q14 62 13 56 Z" fill="url(#tg)"/></svg></div></div>
<div class="card" style="left:1357px;top:434px;transform:translate(0.432px,0.112px);height:74.838px"><div class="bd" style="border-color:#2684ff"></div><div class="sum" style="left:4.669px;top:3.262px;height:29.164px">Send to shipping</div><div class="t" style="left:4.669px;top:42.107px;">ECP-59</div><div class="loz lb" style="left:4.994px;top:51.492px;width:78.340px;height:19.974px;line-height:22.409px;padding-left:3.243px">BACKLOG</div><div class="a " style="left:110.765px;top:60.182px;width:9.209px;height:9.209px;"><svg class="f" viewBox="0 0 70 70"><rect width="70" height="70" rx="12" fill="#27b4ec"/><path d="M17 38 L30 50 L54 21" stroke="#fff" stroke-width="10" fill="none" stroke-linecap="round"/></svg></div><div class="a " style="left:124.514px;top:61.479px;width:8.431px;height:7.912px;"><svg class="f" viewBox="0 0 68 62" preserveAspectRatio="none"><circle cx="34" cy="6" r="5" fill="#1a1a1a"/><rect x="2" y="10.5" width="64" height="7.5" rx="3" fill="#2e2e2e"/><path d="M8 18 H60 L55 56 Q54 62 48 62 H20 Q14 62 13 56 Z" fill="url(#tg)"/></svg></div></div>
<div class="card" style="left:1513px;top:434px;transform:translate(0.411px,0.112px);height:74.838px"><div class="bd" style="border-color:#2684ff"></div><div class="sum" style="left:4.669px;top:3.262px;height:29.164px">PR campaign</div><div class="t" style="left:4.669px;top:42.107px;">ECP-66</div><div class="loz lb" style="left:4.994px;top:51.492px;width:78.340px;height:19.974px;line-height:22.409px;padding-left:3.243px">BACKLOG</div><div class="a " style="left:110.765px;top:60.182px;width:9.209px;height:9.209px;"><svg class="f" viewBox="0 0 70 70"><rect width="70" height="70" rx="12" fill="#27b4ec"/><path d="M17 38 L30 50 L54 21" stroke="#fff" stroke-width="10" fill="none" stroke-linecap="round"/></svg></div><div class="a " style="left:124.514px;top:61.479px;width:8.431px;height:7.912px;"><svg class="f" viewBox="0 0 68 62" preserveAspectRatio="none"><circle cx="34" cy="6" r="5" fill="#1a1a1a"/><rect x="2" y="10.5" width="64" height="7.5" rx="3" fill="#2e2e2e"/><path d="M8 18 H60 L55 56 Q54 62 48 62 H20 Q14 62 13 56 Z" fill="url(#tg)"/></svg></div></div>
<div class="card" style="left:109px;top:525px;transform:translate(0.598px,0.162px);height:74.578px"><div class="bd" style="border-color:#2684ff"></div><div class="sum" style="left:4.669px;top:1.446px;height:29.164px">Edit profile</div><div class="t" style="left:4.669px;top:41.848px;">ECP-71</div><div class="loz lb" style="left:4.994px;top:52.140px;width:78.340px;height:19.974px;line-height:17.739px;padding-left:3.243px">BACKLOG</div><div class="a " style="left:110.765px;top:58.495px;width:9.209px;height:9.209px;"><svg class="f" viewBox="0 0 70 70"><rect width="70" height="70" rx="12" fill="#27b4ec"/><path d="M17 38 L30 50 L54 21" stroke="#fff" stroke-width="10" fill="none" stroke-linecap="round"/></svg></div><div class="a " style="left:124.514px;top:59.792px;width:8.431px;height:7.912px;"><svg class="f" viewBox="0 0 68 62" preserveAspectRatio="none"><circle cx="34" cy="6" r="5" fill="#1a1a1a"/><rect x="2" y="10.5" width="64" height="7.5" rx="3" fill="#2e2e2e"/><path d="M8 18 H60 L55 56 Q54 62 48 62 H20 Q14 62 13 56 Z" fill="url(#tg)"/></svg></div></div>
<div class="card" style="left:265px;top:525px;transform:translate(0.577px,0.162px);height:74.578px"><div class="bd" style="border-color:#2684ff"></div><div class="sum" style="left:4.669px;top:1.446px;height:29.164px">Filter products</div><div class="t" style="left:4.669px;top:41.848px;">ECP-6</div><div class="loz li" style="left:4.994px;top:52.140px;width:84.047px;height:19.974px;line-height:17.739px;padding-left:3.243px">IN PROG…</div><div class="a " style="left:110.765px;top:58.495px;width:9.209px;height:9.209px;"><svg class="f" viewBox="0 0 70 70"><rect width="70" height="70" rx="12" fill="#27b4ec"/><path d="M17 38 L30 50 L54 21" stroke="#fff" stroke-width="10" fill="none" stroke-linecap="round"/></svg></div><div class="a " style="left:124.514px;top:59.792px;width:8.431px;height:7.912px;"><svg class="f" viewBox="0 0 68 62" preserveAspectRatio="none"><circle cx="34" cy="6" r="5" fill="#1a1a1a"/><rect x="2" y="10.5" width="64" height="7.5" rx="3" fill="#2e2e2e"/><path d="M8 18 H60 L55 56 Q54 62 48 62 H20 Q14 62 13 56 Z" fill="url(#tg)"/></svg></div></div>
<div class="card" style="left:421px;top:525px;transform:translate(0.556px,0.162px);height:74.578px"><div class="bd" style="border-color:#2684ff"></div><div class="sum" style="left:4.669px;top:1.446px;height:29.164px">View seller profile</div><div class="t" style="left:4.669px;top:41.848px;">ECP-50</div><div class="loz lb" style="left:4.994px;top:52.140px;width:78.340px;height:19.974px;line-height:17.739px;padding-left:3.243px">BACKLOG</div><div class="a " style="left:110.765px;top:58.495px;width:9.209px;height:9.209px;"><svg class="f" viewBox="0 0 70 70"><rect width="70" height="70" rx="12" fill="#27b4ec"/><path d="M17 38 L30 50 L54 21" stroke="#fff" stroke-width="10" fill="none" stroke-linecap="round"/></svg></div><div class="a " style="left:124.514px;top:59.792px;width:8.431px;height:7.912px;"><svg class="f" viewBox="0 0 68 62" preserveAspectRatio="none"><circle cx="34" cy="6" r="5" fill="#1a1a1a"/><rect x="2" y="10.5" width="64" height="7.5" rx="3" fill="#2e2e2e"/><path d="M8 18 H60 L55 56 Q54 62 48 62 H20 Q14 62 13 56 Z" fill="url(#tg)"/></svg></div></div>
<div class="card" style="left:577px;top:525px;transform:translate(0.536px,0.162px);height:74.578px"><div class="bd" style="border-color:#2684ff"></div><div class="sum" style="left:4.669px;top:1.446px;height:29.164px">Change quantity</div><div class="t" style="left:4.669px;top:41.848px;">ECP-16</div><div class="loz lb" style="left:4.994px;top:52.140px;width:78.340px;height:19.974px;line-height:17.739px;padding-left:3.243px">BACKLOG</div><div class="a " style="left:110.765px;top:58.495px;width:9.209px;height:9.209px;"><svg class="f" viewBox="0 0 70 70"><rect width="70" height="70" rx="12" fill="#27b4ec"/><path d="M17 38 L30 50 L54 21" stroke="#fff" stroke-width="10" fill="none" stroke-linecap="round"/></svg></div><div class="a " style="left:124.514px;top:59.792px;width:8.431px;height:7.912px;"><svg class="f" viewBox="0 0 68 62" preserveAspectRatio="none"><circle cx="34" cy="6" r="5" fill="#1a1a1a"/><rect x="2" y="10.5" width="64" height="7.5" rx="3" fill="#2e2e2e"/><path d="M8 18 H60 L55 56 Q54 62 48 62 H20 Q14 62 13 56 Z" fill="url(#tg)"/></svg></div></div>
<div class="card" style="left:733px;top:525px;transform:translate(0.515px,0.162px);height:74.578px"><div class="bd" style="border-color:#2684ff"></div><div class="sum" style="left:4.669px;top:1.446px;height:29.164px">Confirm order</div><div class="t" style="left:4.669px;top:41.848px;">ECP-20</div><div class="loz lb" style="left:4.994px;top:52.140px;width:78.340px;height:19.974px;line-height:17.739px;padding-left:3.243px">BACKLOG</div><div class="a " style="left:110.765px;top:58.495px;width:9.209px;height:9.209px;"><svg class="f" viewBox="0 0 70 70"><rect width="70" height="70" rx="12" fill="#27b4ec"/><path d="M17 38 L30 50 L54 21" stroke="#fff" stroke-width="10" fill="none" stroke-linecap="round"/></svg></div><div class="a " style="left:124.514px;top:59.792px;width:8.431px;height:7.912px;"><svg class="f" viewBox="0 0 68 62" preserveAspectRatio="none"><circle cx="34" cy="6" r="5" fill="#1a1a1a"/><rect x="2" y="10.5" width="64" height="7.5" rx="3" fill="#2e2e2e"/><path d="M8 18 H60 L55 56 Q54 62 48 62 H20 Q14 62 13 56 Z" fill="url(#tg)"/></svg></div></div>
<div class="card" style="left:889px;top:525px;transform:translate(0.494px,0.162px);height:74.578px"><div class="bd" style="border-color:#2684ff"></div><div class="sum" style="left:4.669px;top:1.446px;height:29.164px">Activate account</div><div class="t" style="left:4.669px;top:41.848px;">ECP-46</div><div class="loz lb" style="left:4.994px;top:52.140px;width:78.340px;height:19.974px;line-height:17.739px;padding-left:3.243px">BACKLOG</div><div class="a " style="left:110.765px;top:58.495px;width:9.209px;height:9.209px;"><svg class="f" viewBox="0 0 70 70"><rect width="70" height="70" rx="12" fill="#27b4ec"/><path d="M17 38 L30 50 L54 21" stroke="#fff" stroke-width="10" fill="none" stroke-linecap="round"/></svg></div><div class="a " style="left:124.514px;top:59.792px;width:8.431px;height:7.912px;"><svg class="f" viewBox="0 0 68 62" preserveAspectRatio="none"><circle cx="34" cy="6" r="5" fill="#1a1a1a"/><rect x="2" y="10.5" width="64" height="7.5" rx="3" fill="#2e2e2e"/><path d="M8 18 H60 L55 56 Q54 62 48 62 H20 Q14 62 13 56 Z" fill="url(#tg)"/></svg></div></div>
<div class="card" style="left:1045px;top:525px;transform:translate(0.473px,0.162px);height:74.578px"><div class="bd" style="border-color:#2684ff"></div><div class="sum" style="left:4.669px;top:1.446px;height:29.164px">Edit product details</div><div class="t" style="left:4.669px;top:41.848px;">ECP-51</div><div class="loz lb" style="left:4.994px;top:52.140px;width:78.340px;height:19.974px;line-height:17.739px;padding-left:3.243px">BACKLOG</div><div class="a " style="left:110.765px;top:58.495px;width:9.209px;height:9.209px;"><svg class="f" viewBox="0 0 70 70"><rect width="70" height="70" rx="12" fill="#27b4ec"/><path d="M17 38 L30 50 L54 21" stroke="#fff" stroke-width="10" fill="none" stroke-linecap="round"/></svg></div><div class="a " style="left:124.514px;top:59.792px;width:8.431px;height:7.912px;"><svg class="f" viewBox="0 0 68 62" preserveAspectRatio="none"><circle cx="34" cy="6" r="5" fill="#1a1a1a"/><rect x="2" y="10.5" width="64" height="7.5" rx="3" fill="#2e2e2e"/><path d="M8 18 H60 L55 56 Q54 62 48 62 H20 Q14 62 13 56 Z" fill="url(#tg)"/></svg></div></div>
<div class="card" style="left:1201px;top:525px;transform:translate(0.453px,0.162px);height:74.578px"><div class="bd" style="border-color:#2684ff"></div><div class="sum" style="left:4.669px;top:1.446px;height:29.164px">Check stock</div><div class="t" style="left:4.669px;top:41.848px;">ECP-54</div><div class="loz lb" style="left:4.994px;top:52.140px;width:78.340px;height:19.974px;line-height:17.739px;padding-left:3.243px">BACKLOG</div><div class="a " style="left:110.765px;top:58.495px;width:9.209px;height:9.209px;"><svg class="f" viewBox="0 0 70 70"><rect width="70" height="70" rx="12" fill="#27b4ec"/><path d="M17 38 L30 50 L54 21" stroke="#fff" stroke-width="10" fill="none" stroke-linecap="round"/></svg></div><div class="a " style="left:124.514px;top:59.792px;width:8.431px;height:7.912px;"><svg class="f" viewBox="0 0 68 62" preserveAspectRatio="none"><circle cx="34" cy="6" r="5" fill="#1a1a1a"/><rect x="2" y="10.5" width="64" height="7.5" rx="3" fill="#2e2e2e"/><path d="M8 18 H60 L55 56 Q54 62 48 62 H20 Q14 62 13 56 Z" fill="url(#tg)"/></svg></div></div>
<div class="card" style="left:109px;top:614px;transform:translate(0.598px,0.397px);height:74.838px"><div class="bd" style="border-color:#2684ff"></div><div class="sum" style="left:4.669px;top:3.262px;height:28.904px">Edit profile</div><div class="t" style="left:4.669px;top:42.107px;">ECP-30</div><div class="loz lb" style="left:4.994px;top:51.492px;width:78.340px;height:19.974px;line-height:22.409px;padding-left:3.243px">BACKLOG</div><div class="a " style="left:110.765px;top:60.182px;width:9.209px;height:9.209px;"><svg class="f" viewBox="0 0 70 70"><rect width="70" height="70" rx="12" fill="#27b4ec"/><path d="M17 38 L30 50 L54 21" stroke="#fff" stroke-width="10" fill="none" stroke-linecap="round"/></svg></div><div class="a " style="left:124.514px;top:61.479px;width:8.431px;height:7.912px;"><svg class="f" viewBox="0 0 68 62" preserveAspectRatio="none"><circle cx="34" cy="6" r="5" fill="#1a1a1a"/><rect x="2" y="10.5" width="64" height="7.5" rx="3" fill="#2e2e2e"/><path d="M8 18 H60 L55 56 Q54 62 48 62 H20 Q14 62 13 56 Z" fill="url(#tg)"/></svg></div></div>
<div class="a hl" style="left:6.485px;top:729.702px;width:1660.182px;height:1.297px;"></div><div class="a hl" style="left:6.485px;top:765.240px;width:1660.182px;height:1.297px;"></div><div class="t" style="left:25.292px;top:748.333px;">Release 2.1</div><div class="a datebox" style="left:111.414px;top:732.815px;width:121.920px;height:29.183px;"></div><div class="t" style="left:121.141px;top:748.333px;color:#14295a">2021-01-15</div><div class="a " style="left:206.355px;top:738.911px;width:16.861px;height:17.510px;"><svg class="f" viewBox="0 0 130 135"><g fill="#2b2d31"><rect x="22" y="0" width="13" height="22" rx="3"/><rect x="93" y="0" width="13" height="22" rx="3"/>
<rect x="0" y="16" width="128" height="119" rx="20"/></g><rect x="19" y="49" width="90" height="68" rx="3" fill="#fff"/>
<g fill="#2b2d31"><rect x="32" y="62" width="9" height="15" rx="2"/><rect x="60" y="62" width="9" height="15" rx="2"/><rect x="88" y="62" width="9" height="15" rx="2"/>
<rect x="32" y="90" width="9" height="15" rx="2"/><rect x="60" y="90" width="9" height="15" rx="2"/><rect x="88" y="90" width="9" height="15" rx="2"/></g></svg></div><div class="a dot" style="left:256.680px;top:744.358px;width:6.874px;height:6.485px;background:#141414"></div><div class="t" style="left:268.482px;top:748.333px;">15 Backlog</div><div class="a " style="left:348.379px;top:744.747px;width:7.782px;height:7.782px;"><svg class="f" viewBox="0 0 60 60"><path d="M17 43 L50 10" stroke="#111" stroke-width="15" stroke-linecap="round"/><path d="M12 40 L20 48 L4 57 Z" fill="#111"/></svg></div><div class="a " style="left:371.725px;top:744.228px;width:7.782px;height:7.263px;"><svg class="f" viewBox="0 0 68 62" preserveAspectRatio="none"><circle cx="34" cy="6" r="5" fill="#1a1a1a"/><rect x="2" y="10.5" width="64" height="7.5" rx="3" fill="#2e2e2e"/><path d="M8 18 H60 L55 56 Q54 62 48 62 H20 Q14 62 13 56 Z" fill="url(#tg)"/></svg></div>
<div class="card" style="left:109px;top:786px;transform:translate(0.598px,0.770px);height:74.319px"><div class="bd" style="border-color:#2684ff"></div><div class="sum" style="left:4.669px;top:3.262px;height:30.590px">Manage payment methods</div><div class="t" style="left:4.669px;top:43.145px;">ECP-31</div><div class="loz lb" style="left:4.994px;top:53.567px;width:78.340px;height:19.974px;line-height:17.739px;padding-left:3.243px">BACKLOG</div><div class="a " style="left:110.765px;top:61.219px;width:8.042px;height:8.042px;"><svg class="f" viewBox="0 0 70 70"><rect width="70" height="70" rx="12" fill="#27b4ec"/><path d="M17 38 L30 50 L54 21" stroke="#fff" stroke-width="10" fill="none" stroke-linecap="round"/></svg></div><div class="a " style="left:124.514px;top:61.349px;width:8.431px;height:7.912px;"><svg class="f" viewBox="0 0 68 62" preserveAspectRatio="none"><circle cx="34" cy="6" r="5" fill="#1a1a1a"/><rect x="2" y="10.5" width="64" height="7.5" rx="3" fill="#2e2e2e"/><path d="M8 18 H60 L55 56 Q54 62 48 62 H20 Q14 62 13 56 Z" fill="url(#tg)"/></svg></div></div>
<div class="card" style="left:265px;top:786px;transform:translate(0.577px,0.770px);height:74.319px"><div class="bd" style="border-color:#2684ff"></div><div class="sum" style="left:4.669px;top:3.262px;height:30.590px">Search discount products</div><div class="t" style="left:4.669px;top:43.145px;">ECP-26</div><div class="loz lb" style="left:4.994px;top:53.567px;width:78.340px;height:19.974px;line-height:17.739px;padding-left:3.243px">BACKLOG</div><div class="a " style="left:110.765px;top:61.219px;width:8.042px;height:8.042px;"><svg class="f" viewBox="0 0 70 70"><rect width="70" height="70" rx="12" fill="#27b4ec"/><path d="M17 38 L30 50 L54 21" stroke="#fff" stroke-width="10" fill="none" stroke-linecap="round"/></svg></div><div class="a " style="left:124.514px;top:61.349px;width:8.431px;height:7.912px;"><svg class="f" viewBox="0 0 68 62" preserveAspectRatio="none"><circle cx="34" cy="6" r="5" fill="#1a1a1a"/><rect x="2" y="10.5" width="64" height="7.5" rx="3" fill="#2e2e2e"/><path d="M8 18 H60 L55 56 Q54 62 48 62 H20 Q14 62 13 56 Z" fill="url(#tg)"/></svg></div></div>
<div class="card" style="left:421px;top:786px;transform:translate(0.556px,0.770px);height:74.319px"><div class="bd" style="border-color:#2684ff"></div><div class="sum" style="left:4.669px;top:3.262px;height:30.590px">View product reviews</div><div class="t" style="left:4.669px;top:43.145px;">ECP-11</div><div class="loz lb" style="left:4.994px;top:53.567px;width:78.340px;height:19.974px;line-height:17.739px;padding-left:3.243px">BACKLOG</div><div class="a " style="left:110.765px;top:61.219px;width:8.042px;height:8.042px;"><svg class="f" viewBox="0 0 70 70"><rect width="70" height="70" rx="12" fill="#27b4ec"/><path d="M17 38 L30 50 L54 21" stroke="#fff" stroke-width="10" fill="none" stroke-linecap="round"/></svg></div><div class="a " style="left:124.514px;top:61.349px;width:8.431px;height:7.912px;"><svg class="f" viewBox="0 0 68 62" preserveAspectRatio="none"><circle cx="34" cy="6" r="5" fill="#1a1a1a"/><rect x="2" y="10.5" width="64" height="7.5" rx="3" fill="#2e2e2e"/><path d="M8 18 H60 L55 56 Q54 62 48 62 H20 Q14 62 13 56 Z" fill="url(#tg)"/></svg></div></div>
<div class="card" style="left:577px;top:786px;transform:translate(0.536px,0.770px);height:74.319px"><div class="bd" style="border-color:#2684ff"></div><div class="sum" style="left:4.669px;top:3.262px;height:30.590px">Continue shopping</div><div class="t" style="left:4.669px;top:43.145px;">ECP-64</div><div class="loz lb" style="left:4.994px;top:53.567px;width:78.340px;height:19.974px;line-height:17.739px;padding-left:3.243px">BACKLOG</div><div class="a " style="left:110.765px;top:61.219px;width:8.042px;height:8.042px;"><svg class="f" viewBox="0 0 70 70"><rect width="70" height="70" rx="12" fill="#27b4ec"/><path d="M17 38 L30 50 L54 21" stroke="#fff" stroke-width="10" fill="none" stroke-linecap="round"/></svg></div><div class="a " style="left:124.514px;top:61.349px;width:8.431px;height:7.912px;"><svg class="f" viewBox="0 0 68 62" preserveAspectRatio="none"><circle cx="34" cy="6" r="5" fill="#1a1a1a"/><rect x="2" y="10.5" width="64" height="7.5" rx="3" fill="#2e2e2e"/><path d="M8 18 H60 L55 56 Q54 62 48 62 H20 Q14 62 13 56 Z" fill="url(#tg)"/></svg></div></div>
<div class="card" style="left:733px;top:786px;transform:translate(0.515px,0.770px);height:74.319px"><div class="bd" style="border-color:#2684ff"></div><div class="sum" style="left:4.669px;top:3.262px;height:30.590px">Select delivery time</div><div class="t" style="left:4.669px;top:43.145px;">ECP-49</div><div class="loz lb" style="left:4.994px;top:53.567px;width:78.340px;height:19.974px;line-height:17.739px;padding-left:3.243px">BACKLOG</div><div class="a " style="left:110.765px;top:61.219px;width:8.042px;height:8.042px;"><svg class="f" viewBox="0 0 70 70"><rect width="70" height="70" rx="12" fill="#27b4ec"/><path d="M17 38 L30 50 L54 21" stroke="#fff" stroke-width="10" fill="none" stroke-linecap="round"/></svg></div><div class="a " style="left:124.514px;top:61.349px;width:8.431px;height:7.912px;"><svg class="f" viewBox="0 0 68 62" preserveAspectRatio="none"><circle cx="34" cy="6" r="5" fill="#1a1a1a"/><rect x="2" y="10.5" width="64" height="7.5" rx="3" fill="#2e2e2e"/><path d="M8 18 H60 L55 56 Q54 62 48 62 H20 Q14 62 13 56 Z" fill="url(#tg)"/></svg></div></div>
<div class="ph" style="left:889px;top:786px;transform:translate(0.494px,0.770px);height:74.319px"><div class="a pl" style="left:62.387px;top:37.484px;width:16.602px;height:1.621px;"></div><div class="a pl" style="left:69.844px;top:28.988px;width:1.621px;height:18.418px;"></div></div>
<div class="card" style="left:1045px;top:786px;transform:translate(0.473px,0.770px);height:74.319px"><div class="bd" style="border-color:#2684ff"></div><div class="sum" style="left:4.669px;top:3.262px;height:30.590px">In-stock process</div><div class="t" style="left:4.669px;top:43.145px;">ECP-57</div><div class="loz lb" style="left:4.994px;top:53.567px;width:78.340px;height:19.974px;line-height:17.739px;padding-left:3.243px">BACKLOG</div><div class="a " style="left:110.765px;top:61.219px;width:8.042px;height:8.042px;"><svg class="f" viewBox="0 0 70 70"><rect width="70" height="70" rx="12" fill="#27b4ec"/><path d="M17 38 L30 50 L54 21" stroke="#fff" stroke-width="10" fill="none" stroke-linecap="round"/></svg></div><div class="a " style="left:124.514px;top:61.349px;width:8.431px;height:7.912px;"><svg class="f" viewBox="0 0 68 62" preserveAspectRatio="none"><circle cx="34" cy="6" r="5" fill="#1a1a1a"/><rect x="2" y="10.5" width="64" height="7.5" rx="3" fill="#2e2e2e"/><path d="M8 18 H60 L55 56 Q54 62 48 62 H20 Q14 62 13 56 Z" fill="url(#tg)"/></svg></div></div>
<div class="card" style="left:1201px;top:786px;transform:translate(0.453px,0.770px);height:74.319px"><div class="bd" style="border-color:#2684ff"></div><div class="sum" style="left:4.669px;top:3.262px;height:30.590px">Inventory forecast</div><div class="t" style="left:4.669px;top:43.145px;">ECP-55</div><div class="loz lb" style="left:4.994px;top:53.567px;width:78.340px;height:19.974px;line-height:17.739px;padding-left:3.243px">BACKLOG</div><div class="a " style="left:110.765px;top:61.219px;width:8.042px;height:8.042px;"><svg class="f" viewBox="0 0 70 70"><rect width="70" height="70" rx="12" fill="#27b4ec"/><path d="M17 38 L30 50 L54 21" stroke="#fff" stroke-width="10" fill="none" stroke-linecap="round"/></svg></div><div class="a " style="left:124.514px;top:61.349px;width:8.431px;height:7.912px;"><svg class="f" viewBox="0 0 68 62" preserveAspectRatio="none"><circle cx="34" cy="6" r="5" fill="#1a1a1a"/><rect x="2" y="10.5" width="64" height="7.5" rx="3" fill="#2e2e2e"/><path d="M8 18 H60 L55 56 Q54 62 48 62 H20 Q14 62 13 56 Z" fill="url(#tg)"/></svg></div></div>
<div class="card" style="left:1357px;top:786px;transform:translate(0.432px,0.770px);height:74.319px"><div class="bd" style="border-color:#2684ff"></div><div class="sum" style="left:4.669px;top:3.262px;height:30.590px">Check delivery status</div><div class="t" style="left:4.669px;top:43.145px;">ECP-60</div><div class="loz lb" style="left:4.994px;top:53.567px;width:78.340px;height:19.974px;line-height:17.739px;padding-left:3.243px">BACKLOG</div><div class="a " style="left:110.765px;top:61.219px;width:8.042px;height:8.042px;"><svg class="f" viewBox="0 0 70 70"><rect width="70" height="70" rx="12" fill="#27b4ec"/><path d="M17 38 L30 50 L54 21" stroke="#fff" stroke-width="10" fill="none" stroke-linecap="round"/></svg></div><div class="a " style="left:124.514px;top:61.349px;width:8.431px;height:7.912px;"><svg class="f" viewBox="0 0 68 62" preserveAspectRatio="none"><circle cx="34" cy="6" r="5" fill="#1a1a1a"/><rect x="2" y="10.5" width="64" height="7.5" rx="3" fill="#2e2e2e"/><path d="M8 18 H60 L55 56 Q54 62 48 62 H20 Q14 62 13 56 Z" fill="url(#tg)"/></svg></div></div>
<div class="card" style="left:1513px;top:786px;transform:translate(0.411px,0.770px);height:74.319px"><div class="bd" style="border-color:#2684ff"></div><div class="sum" style="left:4.669px;top:3.262px;height:30.590px">Discount program</div><div class="t" style="left:4.669px;top:43.145px;">ECP-67</div><div class="loz lb" style="left:4.994px;top:53.567px;width:78.340px;height:19.974px;line-height:17.739px;padding-left:3.243px">BACKLOG</div><div class="a " style="left:110.765px;top:61.219px;width:8.042px;height:8.042px;"><svg class="f" viewBox="0 0 70 70"><rect width="70" height="70" rx="12" fill="#27b4ec"/><path d="M17 38 L30 50 L54 21" stroke="#fff" stroke-width="10" fill="none" stroke-linecap="round"/></svg></div><div class="a " style="left:124.514px;top:61.349px;width:8.431px;height:7.912px;"><svg class="f" viewBox="0 0 68 62" preserveAspectRatio="none"><circle cx="34" cy="6" r="5" fill="#1a1a1a"/><rect x="2" y="10.5" width="64" height="7.5" rx="3" fill="#2e2e2e"/><path d="M8 18 H60 L55 56 Q54 62 48 62 H20 Q14 62 13 56 Z" fill="url(#tg)"/></svg></div></div>
<div class="card" style="left:109px;top:877px;transform:translate(0.598px,0.562px);height:74.838px"><div class="bd" style="border-color:#2684ff"></div><div class="sum" style="left:4.669px;top:3.262px;height:29.553px">Manage bils</div><div class="t" style="left:4.669px;top:42.237px;">ECP-32</div><div class="loz lb" style="left:4.994px;top:51.751px;width:78.340px;height:19.974px;line-height:21.371px;padding-left:3.243px">BACKLOG</div><div class="a " style="left:110.765px;top:59.922px;width:9.209px;height:9.209px;"><svg class="f" viewBox="0 0 70 70"><rect width="70" height="70" rx="12" fill="#27b4ec"/><path d="M17 38 L30 50 L54 21" stroke="#fff" stroke-width="10" fill="none" stroke-linecap="round"/></svg></div><div class="a " style="left:124.514px;top:61.219px;width:8.431px;height:7.912px;"><svg class="f" viewBox="0 0 68 62" preserveAspectRatio="none"><circle cx="34" cy="6" r="5" fill="#1a1a1a"/><rect x="2" y="10.5" width="64" height="7.5" rx="3" fill="#2e2e2e"/><path d="M8 18 H60 L55 56 Q54 62 48 62 H20 Q14 62 13 56 Z" fill="url(#tg)"/></svg></div></div>
<div class="card" style="left:265px;top:877px;transform:translate(0.577px,0.562px);height:74.838px"><div class="bd" style="border-color:#2684ff"></div><div class="sum" style="left:4.669px;top:3.262px;height:29.553px">Advanced search</div><div class="t" style="left:4.669px;top:42.237px;">ECP-8</div><div class="loz lb" style="left:4.994px;top:51.751px;width:78.340px;height:19.974px;line-height:21.371px;padding-left:3.243px">BACKLOG</div><div class="a " style="left:110.765px;top:59.922px;width:9.209px;height:9.209px;"><svg class="f" viewBox="0 0 70 70"><rect width="70" height="70" rx="12" fill="#27b4ec"/><path d="M17 38 L30 50 L54 21" stroke="#fff" stroke-width="10" fill="none" stroke-linecap="round"/></svg></div><div class="a " style="left:124.514px;top:61.219px;width:8.431px;height:7.912px;"><svg class="f" viewBox="0 0 68 62" preserveAspectRatio="none"><circle cx="34" cy="6" r="5" fill="#1a1a1a"/><rect x="2" y="10.5" width="64" height="7.5" rx="3" fill="#2e2e2e"/><path d="M8 18 H60 L55 56 Q54 62 48 62 H20 Q14 62 13 56 Z" fill="url(#tg)"/></svg></div></div>
<div class="card" style="left:421px;top:877px;transform:translate(0.556px,0.562px);height:74.838px"><div class="bd" style="border-color:#2684ff"></div><div class="sum" style="left:4.669px;top:3.262px;height:29.553px">View related products</div><div class="t" style="left:4.669px;top:42.237px;">ECP-12</div><div class="loz lb" style="left:4.994px;top:51.751px;width:78.340px;height:19.974px;line-height:21.371px;padding-left:3.243px">BACKLOG</div><div class="a " style="left:110.765px;top:59.922px;width:9.209px;height:9.209px;"><svg class="f" viewBox="0 0 70 70"><rect width="70" height="70" rx="12" fill="#27b4ec"/><path d="M17 38 L30 50 L54 21" stroke="#fff" stroke-width="10" fill="none" stroke-linecap="round"/></svg></div><div class="a " style="left:124.514px;top:61.219px;width:8.431px;height:7.912px;"><svg class="f" viewBox="0 0 68 62" preserveAspectRatio="none"><circle cx="34" cy="6" r="5" fill="#1a1a1a"/><rect x="2" y="10.5" width="64" height="7.5" rx="3" fill="#2e2e2e"/><path d="M8 18 H60 L55 56 Q54 62 48 62 H20 Q14 62 13 56 Z" fill="url(#tg)"/></svg></div></div>
<div class="card" style="left:1201px;top:877px;transform:translate(0.453px,0.562px);height:74.838px"><div class="bd" style="border-color:#2684ff"></div><div class="sum" style="left:4.669px;top:3.262px;height:29.553px">Inventory process</div><div class="t" style="left:4.669px;top:42.237px;">ECP-56</div><div class="loz lb" style="left:4.994px;top:51.751px;width:78.340px;height:19.974px;line-height:21.371px;padding-left:3.243px">BACKLOG</div><div class="a " style="left:110.765px;top:59.922px;width:9.209px;height:9.209px;"><svg class="f" viewBox="0 0 70 70"><rect width="70" height="70" rx="12" fill="#27b4ec"/><path d="M17 38 L30 50 L54 21" stroke="#fff" stroke-width="10" fill="none" stroke-linecap="round"/></svg></div><div class="a " style="left:124.514px;top:61.219px;width:8.431px;height:7.912px;"><svg class="f" viewBox="0 0 68 62" preserveAspectRatio="none"><circle cx="34" cy="6" r="5" fill="#1a1a1a"/><rect x="2" y="10.5" width="64" height="7.5" rx="3" fill="#2e2e2e"/><path d="M8 18 H60 L55 56 Q54 62 48 62 H20 Q14 62 13 56 Z" fill="url(#tg)"/></svg></div></div>
<div class="card" style="left:1357px;top:877px;transform:translate(0.432px,0.562px);height:74.838px"><div class="bd" style="border-color:#2684ff"></div><div class="sum" style="left:4.669px;top:3.262px;height:29.553px">Contact customer</div><div class="t" style="left:4.669px;top:42.237px;">ECP-61</div><div class="loz lb" style="left:4.994px;top:51.751px;width:78.340px;height:19.974px;line-height:21.371px;padding-left:3.243px">BACKLOG</div><div class="a " style="left:110.765px;top:59.922px;width:9.209px;height:9.209px;"><svg class="f" viewBox="0 0 70 70"><rect width="70" height="70" rx="12" fill="#27b4ec"/><path d="M17 38 L30 50 L54 21" stroke="#fff" stroke-width="10" fill="none" stroke-linecap="round"/></svg></div><div class="a " style="left:124.514px;top:61.219px;width:8.431px;height:7.912px;"><svg class="f" viewBox="0 0 68 62" preserveAspectRatio="none"><circle cx="34" cy="6" r="5" fill="#1a1a1a"/><rect x="2" y="10.5" width="64" height="7.5" rx="3" fill="#2e2e2e"/><path d="M8 18 H60 L55 56 Q54 62 48 62 H20 Q14 62 13 56 Z" fill="url(#tg)"/></svg></div></div>
<div class="card" style="left:1513px;top:877px;transform:translate(0.411px,0.562px);height:74.838px"><div class="bd" style="border-color:#2684ff"></div><div class="sum" style="left:4.669px;top:3.262px;height:29.553px">Coupon</div><div class="t" style="left:4.669px;top:42.237px;">ECP-68</div><div class="loz lb" style="left:4.994px;top:51.751px;width:78.340px;height:19.974px;line-height:21.371px;padding-left:3.243px">BACKLOG</div><div class="a " style="left:110.765px;top:59.922px;width:9.209px;height:9.209px;"><svg class="f" viewBox="0 0 70 70"><rect width="70" height="70" rx="12" fill="#27b4ec"/><path d="M17 38 L30 50 L54 21" stroke="#fff" stroke-width="10" fill="none" stroke-linecap="round"/></svg></div><div class="a " style="left:124.514px;top:61.219px;width:8.431px;height:7.912px;"><svg class="f" viewBox="0 0 68 62" preserveAspectRatio="none"><circle cx="34" cy="6" r="5" fill="#1a1a1a"/><rect x="2" y="10.5" width="64" height="7.5" rx="3" fill="#2e2e2e"/><path d="M8 18 H60 L55 56 Q54 62 48 62 H20 Q14 62 13 56 Z" fill="url(#tg)"/></svg></div></div>
<div class="a hl" style="left:6.485px;top:993.385px;width:1660.182px;height:1.297px;"></div><div class="a hl" style="left:6.485px;top:1022.957px;width:1660.182px;height:1.297px;"></div><div class="t" style="left:25.292px;top:1009.163px;">Unscheldule</div><div class="a dot" style="left:118.029px;top:1005.188px;width:6.874px;height:6.485px;background:#141414"></div><div class="t" style="left:129.183px;top:1009.163px;">6 Backlog</div>
<div class="card" style="left:109px;top:1050px;transform:translate(0.598px,0.065px);height:74.319px"><div class="bd" style="border-color:#2684ff"></div><div class="sum" style="left:4.669px;top:3.262px;height:30.590px">Manage shipping addresses</div><div class="t" style="left:4.669px;top:43.145px;">ECP-33</div><div class="loz lb" style="left:4.994px;top:53.178px;width:78.340px;height:19.974px;line-height:18.518px;padding-left:3.243px">BACKLOG</div><div class="a " style="left:110.765px;top:61.219px;width:8.042px;height:8.042px;"><svg class="f" viewBox="0 0 70 70"><rect width="70" height="70" rx="12" fill="#27b4ec"/><path d="M17 38 L30 50 L54 21" stroke="#fff" stroke-width="10" fill="none" stroke-linecap="round"/></svg></div><div class="a " style="left:124.514px;top:61.349px;width:8.431px;height:7.912px;"><svg class="f" viewBox="0 0 68 62" preserveAspectRatio="none"><circle cx="34" cy="6" r="5" fill="#1a1a1a"/><rect x="2" y="10.5" width="64" height="7.5" rx="3" fill="#2e2e2e"/><path d="M8 18 H60 L55 56 Q54 62 48 62 H20 Q14 62 13 56 Z" fill="url(#tg)"/></svg></div></div>
<div class="card" style="left:265px;top:1050px;transform:translate(0.577px,0.065px);height:74.319px"><div class="bd" style="border-color:#2684ff"></div><div class="sum" style="left:4.669px;top:3.262px;height:30.590px">Search by image</div><div class="t" style="left:4.669px;top:43.145px;">ECP-27</div><div class="loz lb" style="left:4.994px;top:53.178px;width:78.340px;height:19.974px;line-height:18.518px;padding-left:3.243px">BACKLOG</div><div class="a " style="left:110.765px;top:61.219px;width:8.042px;height:8.042px;"><svg class="f" viewBox="0 0 70 70"><rect width="70" height="70" rx="12" fill="#27b4ec"/><path d="M17 38 L30 50 L54 21" stroke="#fff" stroke-width="10" fill="none" stroke-linecap="round"/></svg></div><div class="a " style="left:124.514px;top:61.349px;width:8.431px;height:7.912px;"><svg class="f" viewBox="0 0 68 62" preserveAspectRatio="none"><circle cx="34" cy="6" r="5" fill="#1a1a1a"/><rect x="2" y="10.5" width="64" height="7.5" rx="3" fill="#2e2e2e"/><path d="M8 18 H60 L55 56 Q54 62 48 62 H20 Q14 62 13 56 Z" fill="url(#tg)"/></svg></div></div>
<div class="card" style="left:421px;top:1050px;transform:translate(0.556px,0.065px);height:74.319px"><div class="bd" style="border-color:#2684ff"></div><div class="sum" style="left:4.669px;top:3.262px;height:30.590px">View recommended products</div><div class="t" style="left:4.669px;top:43.145px;">ECP-13</div><div class="loz lb" style="left:4.994px;top:53.178px;width:78.340px;height:19.974px;line-height:18.518px;padding-left:3.243px">BACKLOG</div><div class="a " style="left:110.765px;top:61.219px;width:8.042px;height:8.042px;"><svg class="f" viewBox="0 0 70 70"><rect width="70" height="70" rx="12" fill="#27b4ec"/><path d="M17 38 L30 50 L54 21" stroke="#fff" stroke-width="10" fill="none" stroke-linecap="round"/></svg></div><div class="a " style="left:124.514px;top:61.349px;width:8.431px;height:7.912px;"><svg class="f" viewBox="0 0 68 62" preserveAspectRatio="none"><circle cx="34" cy="6" r="5" fill="#1a1a1a"/><rect x="2" y="10.5" width="64" height="7.5" rx="3" fill="#2e2e2e"/><path d="M8 18 H60 L55 56 Q54 62 48 62 H20 Q14 62 13 56 Z" fill="url(#tg)"/></svg></div></div>
<div class="ph" style="left:577px;top:1050px;transform:translate(0.536px,0.065px);height:74.319px"><div class="a pl" style="left:62.387px;top:37.484px;width:16.602px;height:1.621px;"></div><div class="a pl" style="left:69.844px;top:28.988px;width:1.621px;height:18.418px;"></div></div>
<div class="card" style="left:733px;top:1050px;transform:translate(0.515px,0.065px);height:74.319px"><div class="bd" style="border-color:#2684ff"></div><div class="sum" style="left:4.669px;top:3.262px;height:30.590px">Cancel purchase</div><div class="t" style="left:4.669px;top:43.145px;">ECP-63</div><div class="loz lb" style="left:4.994px;top:53.178px;width:78.340px;height:19.974px;line-height:18.518px;padding-left:3.243px">BACKLOG</div><div class="a " style="left:110.765px;top:61.219px;width:8.042px;height:8.042px;"><svg class="f" viewBox="0 0 70 70"><rect width="70" height="70" rx="12" fill="#27b4ec"/><path d="M17 38 L30 50 L54 21" stroke="#fff" stroke-width="10" fill="none" stroke-linecap="round"/></svg></div><div class="a " style="left:124.514px;top:61.349px;width:8.431px;height:7.912px;"><svg class="f" viewBox="0 0 68 62" preserveAspectRatio="none"><circle cx="34" cy="6" r="5" fill="#1a1a1a"/><rect x="2" y="10.5" width="64" height="7.5" rx="3" fill="#2e2e2e"/><path d="M8 18 H60 L55 56 Q54 62 48 62 H20 Q14 62 13 56 Z" fill="url(#tg)"/></svg></div></div>
<div class="ph" style="left:889px;top:1050px;transform:translate(0.494px,0.065px);height:74.319px"><div class="a pl" style="left:62.387px;top:37.484px;width:16.602px;height:1.621px;"></div><div class="a pl" style="left:69.844px;top:28.988px;width:1.621px;height:18.418px;"></div></div>
<div class="ph" style="left:1045px;top:1050px;transform:translate(0.473px,0.065px);height:74.319px"><div class="a pl" style="left:62.387px;top:37.484px;width:16.602px;height:1.621px;"></div><div class="a pl" style="left:69.844px;top:28.988px;width:1.621px;height:18.418px;"></div></div>
<div class="ph" style="left:1201px;top:1050px;transform:translate(0.453px,0.065px);height:74.319px"><div class="a pl" style="left:62.387px;top:37.484px;width:16.602px;height:1.621px;"></div><div class="a pl" style="left:69.844px;top:28.988px;width:1.621px;height:18.418px;"></div></div>
<div class="card" style="left:1357px;top:1050px;transform:translate(0.432px,0.065px);height:74.319px"><div class="bd" style="border-color:#2684ff"></div><div class="sum" style="left:4.669px;top:3.262px;height:30.590px">Validate adress</div><div class="t" style="left:4.669px;top:43.145px;">ECP-62</div><div class="loz lb" style="left:4.994px;top:53.178px;width:78.340px;height:19.974px;line-height:18.518px;padding-left:3.243px">BACKLOG</div><div class="a " style="left:110.765px;top:61.219px;width:8.042px;height:8.042px;"><svg class="f" viewBox="0 0 70 70"><rect width="70" height="70" rx="12" fill="#27b4ec"/><path d="M17 38 L30 50 L54 21" stroke="#fff" stroke-width="10" fill="none" stroke-linecap="round"/></svg></div><div class="a " style="left:124.514px;top:61.349px;width:8.431px;height:7.912px;"><svg class="f" viewBox="0 0 68 62" preserveAspectRatio="none"><circle cx="34" cy="6" r="5" fill="#1a1a1a"/><rect x="2" y="10.5" width="64" height="7.5" rx="3" fill="#2e2e2e"/><path d="M8 18 H60 L55 56 Q54 62 48 62 H20 Q14 62 13 56 Z" fill="url(#tg)"/></svg></div></div>
<div class="card" style="left:1513px;top:1050px;transform:translate(0.411px,0.065px);height:74.319px"><div class="bd" style="border-color:#2684ff"></div><div class="sum" style="left:4.669px;top:3.262px;height:30.590px">Integrate with SNS</div><div class="t" style="left:4.669px;top:43.145px;">ECP-69</div><div class="loz lb" style="left:4.994px;top:53.178px;width:78.340px;height:19.974px;line-height:18.518px;padding-left:3.243px">BACKLOG</div><div class="a " style="left:110.765px;top:61.219px;width:8.042px;height:8.042px;"><svg class="f" viewBox="0 0 70 70"><rect width="70" height="70" rx="12" fill="#27b4ec"/><path d="M17 38 L30 50 L54 21" stroke="#fff" stroke-width="10" fill="none" stroke-linecap="round"/></svg></div><div class="a " style="left:124.514px;top:61.349px;width:8.431px;height:7.912px;"><svg class="f" viewBox="0 0 68 62" preserveAspectRatio="none"><circle cx="34" cy="6" r="5" fill="#1a1a1a"/><rect x="2" y="10.5" width="64" height="7.5" rx="3" fill="#2e2e2e"/><path d="M8 18 H60 L55 56 Q54 62 48 62 H20 Q14 62 13 56 Z" fill="url(#tg)"/></svg></div></div>
</div></body></html>
